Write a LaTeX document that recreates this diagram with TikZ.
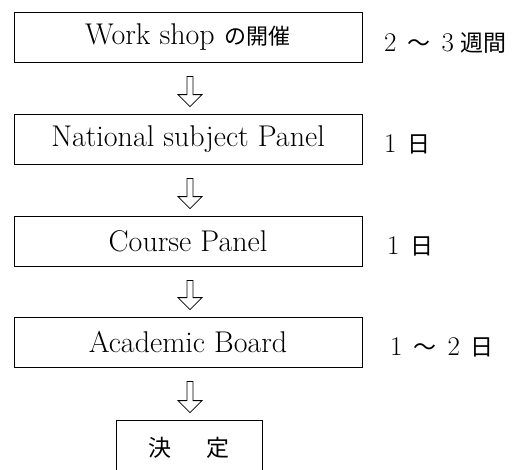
\documentclass[tikz,border=0pt]{standalone}
\usepackage{fontspec}
\newfontfamily\cjk{Noto Sans CJK JP}
\usetikzlibrary{calc}
\begin{document}
\begin{tikzpicture}[x=1pt,y=-1pt,
  box/.style={draw, line width=0.8pt, minimum width=348pt, minimum height=50pt, inner sep=0pt,
    font=\fontsize{30}{30}\selectfont},
  endbox/.style={draw, line width=0.8pt, minimum width=146pt, minimum height=56pt, inner sep=0pt,
    font=\cjk\fontsize{23}{23}\selectfont},
  lbl/.style={anchor=west, inner sep=0pt, font=\fontsize{27}{27}\selectfont},
  harrow/.style={draw, line width=0.8pt, line join=miter, fill=white}]
\useasboundingbox (0,0) rectangle (516,469);
\clip (0,0) rectangle (516,469);
\fill[white] (0,0) rectangle (516,469);

\node[box] (b1) at (188,37) {Work shop\hspace{10pt}{\cjk\fontsize{22}{22}\selectfont の開催}};
\node[box] (b2) at (188,139) {National subject Panel};
\node[box] (b3) at (188,241) {Course Panel};
\node[box] (b4) at (188,342) {Academic Board};
\node[endbox] (b5) at (189,448) {決\hspace{1.5em}定};

\node[lbl] (l1) at (384,43) {2\hspace{11pt}{\cjk\fontsize{23}{23}\selectfont 〜}\hspace{11pt}3\hspace{7pt}{\cjk\fontsize{23}{23}\selectfont 週間}};
\node[lbl] (l2) at (384,144) {1\hspace{11pt}{\cjk\fontsize{23}{23}\selectfont 日}};
\node[lbl] (l3) at (387,246) {1\hspace{11pt}{\cjk\fontsize{23}{23}\selectfont 日}};
\node[lbl] (l4) at (390,347) {1\hspace{11pt}{\cjk\fontsize{23}{23}\selectfont 〜}\hspace{11pt}2\hspace{11pt}{\cjk\fontsize{23}{23}\selectfont 日}};

\foreach \a/\b in {b1/b2, b2/b3, b3/b4, b4/b5}{
  \draw[harrow] ($(\a.south)+(-1,14)$)
    -- ($(\a.south |- \b.north)+(-1,-19)$)
    -- ++(-9,0)
    -- ($(\a.south |- \b.north)+(2,-7)$)
    -- ++(12,-12)
    -- ++(-9,0)
    -- ($(\a.south)+(5,14)$) -- cycle;
}
\end{tikzpicture}
\end{document}
